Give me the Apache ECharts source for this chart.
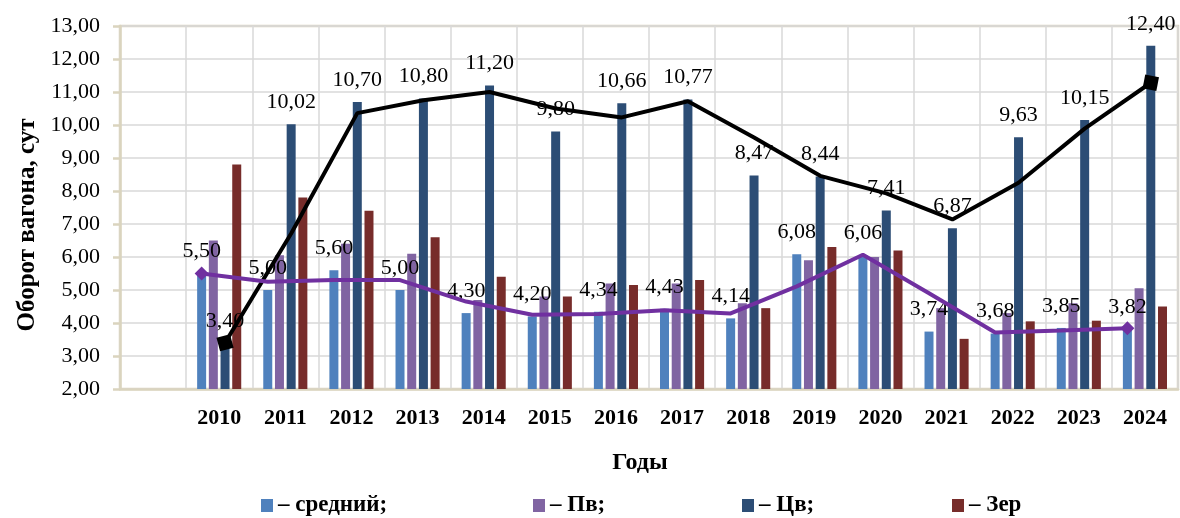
<!DOCTYPE html>
<html>
<head>
<meta charset="utf-8">
<title>Оборот вагона</title>
<script src="https://cdn.jsdelivr.net/npm/echarts@6/dist/echarts.min.js"></script>
<style>
  html, body { margin: 0; padding: 0; background: #ffffff; }
  #chart { width: 1180px; height: 518px; }
</style>
</head>
<body>
<div id="chart"></div>
<script>
// Category labels (first slot left empty)
const categories = ['', '2010', '2011', '2012', '2013', '2014', '2015', '2016', '2017',
  '2018', '2019', '2020', '2021', '2022', '2023', '2024'];

// Wagon turnaround time, days
const avgValues = [5.50, 5.00, 5.60, 5.00, 4.30, 4.20, 4.34, 4.43, 4.14, 6.08, 6.06, 3.74, 3.68, 3.85, 3.82];
const pvValues  = [6.50, 6.05, 6.40, 6.10, 4.70, 4.80, 5.20, 5.20, 4.60, 5.90, 6.00, 4.45, 4.30, 4.60, 5.05];
const cvValues  = [3.40, 10.02, 10.70, 10.80, 11.20, 9.80, 10.66, 10.77, 8.47, 8.44, 7.41, 6.87, 9.63, 10.15, 12.40];
const zerValues = [8.80, 7.80, 7.40, 6.60, 5.40, 4.80, 5.15, 5.30, 4.45, 6.30, 6.20, 3.52, 4.05, 4.07, 4.50];

// Trend lines
const cvTrend  = [3.40, 6.71, 10.36, 10.75, 11.00, 10.50, 10.23, 10.72, 9.62, 8.46, 7.93, 7.14, 8.25, 9.89, 11.28];
const avgTrend = [5.50, 5.25, 5.30, 5.30, 4.65, 4.25, 4.27, 4.39, 4.29, 5.11, 6.07, 4.90, 3.71, 3.77, 3.84];

const seriesNames = ['средний', 'Пв', 'Цв', 'Зер'];
const seriesColors = ['#4F81BD', '#8064A2', '#2C4D75', '#772C2A'];

const FONT = '"Liberation Serif", "Times New Roman", serif';
const BEIGE = '#DAD4BE';
const GRID = { left: 120, right: 2, top: 26, bottom: 129 };
const CHART_W = 1180;
const BAR_W = 9;
const BAR_GAP = 0.3;

// horizontal shift (in category units) of the k-th bar inside its group
const catPx = (CHART_W - GRID.left - GRID.right) / categories.length;
function slotShift(k) {
  return (k - (seriesNames.length - 1) / 2) * BAR_W * (1 + BAR_GAP) / catPx;
}

const fmt = v => v.toFixed(2).replace('.', ',');

function barSeries(k, values, withLabels) {
  return {
    name: seriesNames[k],
    type: 'bar',
    xAxisIndex: 0,
    yAxisIndex: 0,
    barWidth: BAR_W,
    barGap: (BAR_GAP * 100) + '%',
    z: 2,
    itemStyle: { color: seriesColors[k] },
    label: withLabels ? {
      show: true,
      position: 'top',
      distance: 11,
      fontFamily: FONT,
      fontSize: 22,
      color: '#000',
      formatter: p => fmt(p.value)
    } : { show: false },
    data: [null].concat(values)
  };
}

function trendSeries(slot, values, color, endSymbol, rotations) {
  const last = values.length - 1;
  return {
    name: 'trend' + slot,
    type: 'line',
    xAxisIndex: 1,
    yAxisIndex: 0,
    z: 5,
    silent: true,
    lineStyle: { color: color, width: 4 },
    itemStyle: { color: color },
    symbol: endSymbol,
    symbolSize: 14,
    showSymbol: true,
    label: { show: false },
    data: values.map((v, i) => {
      const item = { value: [i + 1.5 + slotShift(slot), v] };
      if (i === 0 || i === last) {
        item.symbolRotate = rotations[i === 0 ? 0 : 1];
      } else {
        item.symbol = 'none';
      }
      return item;
    })
  };
}

const chart = echarts.init(document.getElementById('chart'), null, { renderer: 'canvas' });

const legends = seriesNames.map((name, k) => ({
  data: [name],
  left: [261, 533, 742, 952][k],
  top: 494,
  padding: 0,
  icon: 'rect',
  itemWidth: 12,
  itemHeight: 13,
  itemGap: 0,
  selectedMode: false,
  textStyle: { fontFamily: FONT, fontSize: 23, fontWeight: 'bold', color: '#000' },
  formatter: n => '– ' + n + (k < seriesNames.length - 1 ? ';' : '')
}));

chart.setOption({
  animation: false,
  backgroundColor: '#ffffff',
  textStyle: { fontFamily: FONT },
  grid: {
    left: GRID.left, right: GRID.right, top: GRID.top, bottom: GRID.bottom,
    show: true, borderColor: BEIGE, borderWidth: 2.5, containLabel: false
  },
  legend: legends,
  xAxis: [
    {
      type: 'category',
      data: categories,
      boundaryGap: true,
      axisLine: { show: true, lineStyle: { color: BEIGE, width: 2.5 } },
      axisTick: { show: false },
      splitLine: { show: true, interval: 0, lineStyle: { color: '#D9D9D9', width: 1.5 } },
      axisLabel: {
        interval: 0, margin: 18,
        fontFamily: FONT, fontSize: 22, fontWeight: 'bold', color: '#000'
      }
    },
    {
      type: 'value',
      min: 0,
      max: categories.length,
      show: false
    }
  ],
  yAxis: {
    type: 'value',
    min: 2,
    max: 13,
    interval: 1,
    axisLine: { show: true, lineStyle: { color: BEIGE, width: 2.5 } },
    axisTick: { show: true, length: 7, lineStyle: { color: BEIGE, width: 2.5 } },
    splitLine: { show: true, lineStyle: { color: '#D9D9D9', width: 1.5 } },
    axisLabel: {
      margin: 20, fontFamily: FONT, fontSize: 22, color: '#000',
      formatter: v => fmt(v)
    }
  },
  graphic: [
    {
      type: 'text', x: 28, y: 225, rotation: Math.PI / 2,
      style: {
        text: 'Оборот вагона, сут', align: 'center', verticalAlign: 'middle',
        font: 'bold 25px ' + FONT, fill: '#000'
      }
    },
    {
      type: 'text', x: 640, y: 463,
      style: {
        text: 'Годы', align: 'center', verticalAlign: 'middle',
        font: 'bold 24px ' + FONT, fill: '#000'
      }
    }
  ],
  series: [
    barSeries(0, avgValues, true),
    barSeries(1, pvValues, false),
    barSeries(2, cvValues, true),
    barSeries(3, zerValues, false),
    trendSeries(2, cvTrend, '#000000', 'rect', [15, -11]),
    trendSeries(0, avgTrend, '#7030A0', 'diamond', [0, 0])
  ]
});
</script>
</body>
</html>
